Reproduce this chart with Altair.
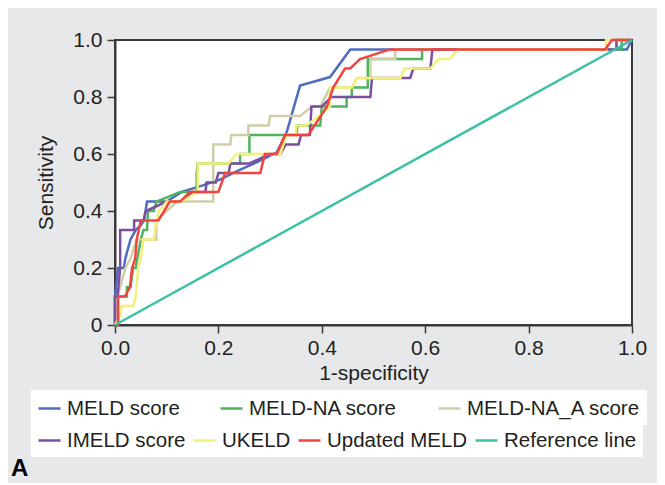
import altair as alt
import pandas as pd

# ---------------- data ----------------
meld_x = [0, 0, 0.006, 0.017, 0.02, 0.025, 0.03, 0.04, 0.05, 0.056, 0.062, 0.1, 0.129, 0.17, 0.203, 0.236, 0.28, 0.313, 0.332, 0.345, 0.358, 0.416, 0.455, 0.99, 1.0]
meld_y = [0, 0.1, 0.2, 0.2, 0.233, 0.267, 0.3, 0.333, 0.35, 0.367, 0.433, 0.433, 0.467, 0.49, 0.51, 0.54, 0.576, 0.606, 0.676, 0.758, 0.84, 0.87, 0.967, 0.967, 1.0]

meldna_x = [0, 0, 0.023, 0.023, 0.03, 0.035, 0.04, 0.043, 0.05, 0.055, 0.062, 0.064, 0.075, 0.08, 0.126, 0.158, 0.158, 0.16, 0.242, 0.242, 0.26, 0.26, 0.352, 0.352, 0.397, 0.4, 0.448, 0.448, 0.458, 0.458, 0.489, 0.489, 0.594, 0.594, 0.98, 0.98, 1.0]
meldna_y = [0, 0.1, 0.1, 0.133, 0.133, 0.2, 0.2, 0.233, 0.3, 0.333, 0.333, 0.4, 0.4, 0.433, 0.467, 0.467, 0.533, 0.567, 0.567, 0.6, 0.6, 0.667, 0.667, 0.7, 0.7, 0.767, 0.767, 0.8, 0.8, 0.833, 0.833, 0.933, 0.933, 0.967, 0.967, 1.0, 1.0]

meldnaa_x = [0, 0.005, 0.02, 0.03, 0.042, 0.08, 0.08, 0.1, 0.12, 0.19, 0.19, 0.223, 0.225, 0.258, 0.258, 0.297, 0.3, 0.358, 0.381, 0.397, 0.416, 0.458, 0.468, 0.494, 0.494, 0.542, 0.542, 0.97, 0.97, 1.0]
meldnaa_y = [0, 0.1, 0.2, 0.233, 0.3, 0.3, 0.367, 0.4, 0.433, 0.433, 0.633, 0.633, 0.667, 0.667, 0.7, 0.7, 0.733, 0.733, 0.767, 0.767, 0.833, 0.833, 0.867, 0.867, 0.933, 0.933, 0.967, 0.967, 1.0, 1.0]

imeld_x = [0, 0, 0.005, 0.01, 0.01, 0.037, 0.037, 0.055, 0.06, 0.1, 0.13, 0.15, 0.175, 0.177, 0.195, 0.2, 0.22, 0.223, 0.26, 0.3, 0.32, 0.33, 0.355, 0.36, 0.377, 0.38, 0.4, 0.419, 0.494, 0.497, 0.571, 0.577, 0.61, 0.614, 0.97, 0.97, 1.0]
imeld_y = [0, 0.1, 0.1, 0.2, 0.333, 0.333, 0.367, 0.367, 0.4, 0.433, 0.433, 0.467, 0.467, 0.5, 0.5, 0.533, 0.533, 0.567, 0.567, 0.6, 0.6, 0.633, 0.633, 0.667, 0.667, 0.767, 0.767, 0.8, 0.8, 0.867, 0.867, 0.9, 0.9, 0.967, 0.967, 1.0, 1.0]

ukeld_x = [0, 0.01, 0.013, 0.035, 0.04, 0.045, 0.05, 0.055, 0.075, 0.08, 0.085, 0.1, 0.13, 0.16, 0.16, 0.22, 0.235, 0.32, 0.332, 0.35, 0.35, 0.37, 0.395, 0.416, 0.416, 0.458, 0.468, 0.552, 0.56, 0.61, 0.626, 0.648, 0.663, 0.95, 0.95, 1.0]
ukeld_y = [0, 0.033, 0.067, 0.067, 0.1, 0.2, 0.233, 0.3, 0.3, 0.367, 0.4, 0.433, 0.433, 0.467, 0.567, 0.567, 0.6, 0.6, 0.667, 0.667, 0.7, 0.7, 0.733, 0.767, 0.833, 0.833, 0.867, 0.867, 0.9, 0.9, 0.933, 0.933, 0.967, 0.967, 1.0, 1.0]

upd_x = [0, 0.006, 0.006, 0.019, 0.029, 0.033, 0.039, 0.042, 0.046, 0.05, 0.084, 0.106, 0.126, 0.145, 0.2, 0.213, 0.281, 0.29, 0.313, 0.329, 0.374, 0.41, 0.422, 0.445, 0.455, 0.474, 0.532, 0.948, 0.961, 1.0]
upd_y = [0, 0.0, 0.1, 0.1, 0.133, 0.2, 0.233, 0.3, 0.333, 0.367, 0.367, 0.433, 0.433, 0.467, 0.467, 0.533, 0.533, 0.6, 0.6, 0.667, 0.667, 0.767, 0.833, 0.9, 0.9, 0.933, 0.967, 0.967, 1.0, 1.0]

ref_x = [0, 1.0]
ref_y = [0, 1.0]

group1 = ["MELD score", "MELD-NA score", "MELD-NA_A score"]
colors1 = ["#4f6cc0", "#4db45c", "#d0cda8"]
group2 = ["IMELD score", "UKELD", "Updated MELD", "Reference line"]
colors2 = ["#7b4f9f", "#f2ef7c", "#f2443e", "#3cc0a6"]

x_ticks = [0, 0.2, 0.4, 0.6, 0.8, 1.0]
y_ticks = [0, 0.2, 0.4, 0.6, 0.8, 1.0]


def frame(name, xs, ys):
    return pd.DataFrame({"series": name, "x": xs, "y": ys, "k": range(len(xs))})


df1 = pd.concat([
    frame("MELD score", meld_x, meld_y),
    frame("MELD-NA score", meldna_x, meldna_y),
    frame("MELD-NA_A score", meldnaa_x, meldnaa_y),
])
df2 = pd.concat([
    frame("IMELD score", imeld_x, imeld_y),
    frame("UKELD", ukeld_x, ukeld_y),
    frame("Updated MELD", upd_x, upd_y),
    frame("Reference line", ref_x, ref_y),
])

FONT = "Liberation Sans"
TXT = "#231f20"

x_enc = alt.X("x:Q", scale=alt.Scale(domain=[0, 1], nice=False),
              axis=alt.Axis(values=x_ticks, format=".1f", title="1-specificity",
                            labelFlush=False))
y_enc = alt.Y("y:Q", scale=alt.Scale(domain=[0, 1], nice=False),
              axis=alt.Axis(values=y_ticks, title="Sensitivity", labelFlush=False,
                            labelExpr="datum.value == 0 ? '0' : format(datum.value, '.1f')"))

legend_common = dict(
    orient="none", title=None, direction="horizontal",
    symbolType="stroke", symbolStrokeWidth=2.5, symbolSize=484,
    labelFontSize=20.5, labelFont=FONT, labelColor=TXT, labelLimit=400,
    labelOffset=5, padding=6, fillColor="white",
)

l1 = alt.Chart(df1).mark_line(strokeWidth=2.5).encode(
    x=x_enc, y=y_enc,
    color=alt.Color("series:N", sort=group1,
                    scale=alt.Scale(domain=group1, range=colors1),
                    legend=alt.Legend(columns=3, columnPadding=35,
                                      legendX=-84, legendY=350, **legend_common)),
    order="k:Q",
)

l2 = alt.Chart(df2).mark_line(strokeWidth=2.5).encode(
    x=x_enc, y=y_enc,
    color=alt.Color("series:N", sort=group2,
                    scale=alt.Scale(domain=group2, range=colors2),
                    legend=alt.Legend(columns=4, columnPadding=2,
                                      legendX=-84, legendY=382, **legend_common)),
    order="k:Q",
)

chart = alt.layer(l1, l2).resolve_scale(color="independent").properties(
    width=517, height=285,
    autosize=alt.AutoSizeParams(type="none"),
    padding={"left": 107, "top": 32, "right": 25, "bottom": 158},
    background="#e7e8ea",
    title=alt.TitleParams("A", orient="bottom", anchor="start", fontSize=24,
                          fontWeight="bold", color="black", font=FONT,
                          frame="bounds", offset=0, dx=-20),
).configure_view(
    fill="white", stroke="#3a3a3a", strokeWidth=2,
).configure_axis(
    grid=False, domainColor="#3a3a3a", domainWidth=2,
    tickColor="#3a3a3a", tickSize=8, tickWidth=1.5,
    labelFont=FONT, labelFontSize=21, labelColor=TXT, labelPadding=4,
    titleFont=FONT, titleFontSize=21, titleColor=TXT, titleFontWeight="normal",
).configure_axisY(titlePadding=16, labelPadding=5)

chart.save("out.html", embed_options={"renderer": "svg", "actions": False})
